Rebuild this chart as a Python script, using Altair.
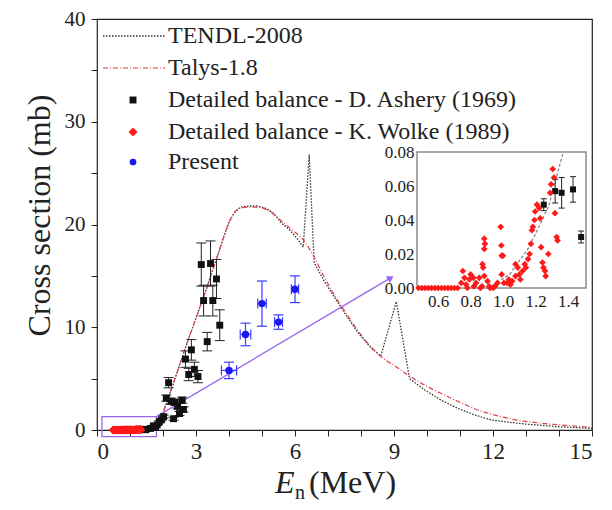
import altair as alt
import pandas as pd

# ---------------- data ----------------
tendl_E = [1.40, 1.60, 1.80, 1.95, 2.10, 2.30, 2.50, 2.70, 2.90, 3.10,
           3.30, 3.50, 3.70, 3.85, 4.00, 4.15, 4.35, 4.60, 4.85, 5.10,
           5.35, 5.60, 5.80, 6.05, 6.25, 6.43, 6.58, 6.90, 7.20, 7.50,
           7.90, 8.30, 8.60, 9.07, 9.47, 9.93, 10.43, 10.94, 11.45, 11.96,
           12.50, 12.97, 13.98, 15.00]
tendl_sigma = [0.08, 0.2, 0.6, 1.2, 2.6, 4.4, 6.3, 8.2, 10.0, 11.8,
               13.6, 15.5, 17.4, 18.9, 20.2, 21.1, 21.7, 21.8, 21.8, 21.6,
               21.1, 20.1, 19.6, 18.7, 17.8, 26.8, 16.3, 14.4, 12.9, 11.4,
               9.5, 8.0, 7.2, 12.5, 5.0, 3.9, 2.9, 2.1, 1.45, 0.97,
               0.75, 0.58, 0.32, 0.16]

talys_E = [1.40, 1.60, 1.80, 1.95, 2.10, 2.30, 2.50, 2.70, 2.90, 3.10,
           3.30, 3.50, 3.70, 3.85, 4.00, 4.15, 4.35, 4.60, 4.85, 5.10,
           5.35, 5.60, 5.90, 6.25, 6.55, 6.90, 7.20, 7.50, 7.90, 8.30,
           8.70, 9.00, 9.40, 9.80, 10.40, 11.00, 11.50, 12.00, 12.50, 13.50,
           14.20, 15.00]
talys_sigma = [0.08, 0.2, 0.6, 1.2, 2.6, 4.4, 6.3, 8.2, 10.0, 11.8,
               13.6, 15.5, 17.4, 18.9, 20.2, 21.1, 21.6, 21.7, 21.7, 21.5,
               21.0, 20.3, 19.5, 18.5, 17.0, 14.8, 13.1, 11.6, 9.7, 8.1,
               6.9, 6.3, 5.4, 4.6, 3.6, 2.7, 2.0, 1.5, 1.1, 0.65,
               0.45, 0.26]

ashery_E = [1.25, 1.32, 1.36, 1.43, 1.48, 1.62, 1.71, 1.77, 1.82, 1.89,
            1.95, 2.02, 2.10, 2.17, 2.24, 2.32, 2.37, 2.44, 2.50, 2.58,
            2.62, 2.68, 2.78, 2.86, 2.95, 3.06, 3.16, 3.23, 3.34, 3.44,
            3.51, 3.62, 3.72]
ashery_sigma = [0.049, 0.057, 0.056, 0.058, 0.030, 0.15, 0.4, 0.26, 0.5, 0.8,
                1.0, 1.3, 3.1, 4.6, 2.8, 1.1, 2.7, 2.3, 1.6, 2.9,
                2.0, 6.9, 5.4, 7.8, 5.9, 5.2, 16.1, 12.6, 8.6, 16.2,
                12.6, 14.7, 10.2]
ashery_err = [0.0035, 0.007, 0.009, 0.0075, 0.0035, 0.02, 0.05, 0.04, 0.06, 0.1,
              0.12, 0.15, 0.3, 0.5, 0.3, 0.15, 0.3, 0.25, 0.2, 0.3,
              0.25, 0.8, 0.6, 1.0, 0.7, 0.6, 2.1, 1.5, 0.9, 2.2,
              1.5, 1.9, 1.5]

wolke_E = [0.48, 0.50, 0.52, 0.54, 0.56, 0.58, 0.60, 0.62, 0.64, 0.66,
           0.68, 0.70, 0.72, 0.742, 0.752, 0.762, 0.772, 0.78, 0.792, 0.800,
           0.817, 0.82, 0.833, 0.853, 0.86, 0.870, 0.873, 0.877, 0.884, 0.884,
           0.888, 0.884, 0.904, 0.914, 0.92, 0.938, 0.95, 0.965, 0.985, 0.989,
           0.991, 0.999, 0.991, 1.005, 1.025, 1.035, 1.045, 1.056, 1.076, 1.076,
           1.090, 1.100, 1.106, 1.120, 1.133, 1.140, 1.153, 1.163, 1.171, 1.177,
           1.183, 1.193, 1.197, 1.208, 1.222, 1.228, 1.234, 1.242, 1.248, 1.258,
           1.262, 1.278, 1.289, 1.295, 1.305, 1.313, 1.319, 1.329, 1.335]
wolke_sigma = [0.0, 0.0, 0.0, 0.0, 0.0, 0.0, 0.0, 0.0, 0.0, 0.0,
               0.0, 0.0, 0.0, 0.003, 0.010, 0.006, 0.002, 0.0, 0.005, 0.008,
               0.006, 0.001, 0.003, 0.006, 0.0, 0.001, 0.014, 0.012, 0.007, 0.023,
               0.026, 0.029, 0.004, 0.001, 0.0, 0.0, 0.001, 0.003, 0.036, 0.025,
               0.019, 0.019, 0.008, 0.003, 0.003, 0.005, 0.002, 0.004, 0.007, 0.014,
               0.012, 0.008, 0.005, 0.010, 0.014, 0.012, 0.017, 0.020, 0.026, 0.034,
               0.036, 0.040, 0.045, 0.049, 0.047, 0.041, 0.024, 0.015, 0.012, 0.010,
               0.007, 0.020, 0.056, 0.061, 0.070, 0.065, 0.044, 0.030, 0.028]

present_E = [4.0, 4.5, 5.0, 5.5, 6.0]
present_sigma = [5.8, 9.3, 12.3, 10.5, 13.7]
present_dsigma = [0.8, 1.1, 2.2, 0.7, 1.3]
present_dE = [0.23, 0.16, 0.13, 0.12, 0.11]

inset_tendl_E = [0.91, 1.04, 1.16, 1.28, 1.37]
inset_tendl_sigma = [0.0, 0.008, 0.024, 0.048, 0.080]

zoom_box_E = [0.15, 1.8]
zoom_box_sigma = [-0.65, 1.3]
arrow_E = [1.8, 8.9]
arrow_sigma = [1.3, 14.8]

x_domain = [0, 15]
y_domain = [0, 40]
x_ticks = [0, 1, 2, 3, 4, 5, 6, 7, 8, 9, 10, 11, 12, 13, 14, 15]
y_ticks = [0, 5, 10, 15, 20, 25, 30, 35, 40]
inset_E_domain = [0.47, 1.51]
inset_sigma_domain = [0.0, 0.08]
inset_x_ticks = [0.6, 0.8, 1.0, 1.2, 1.4]
inset_y_ticks = [0.0, 0.02, 0.04, 0.06, 0.08]

legend_labels = ["TENDL-2008", "Talys-1.8",
                 "Detailed balance - D. Ashery (1969)",
                 "Detailed balance - K. Wolke (1989)", "Present"]
y_title = "Cross section (mb)"
x_title_parts = ["E", "n", "(MeV)"]

# ---------------- layout / style ----------------
W, H = 495, 411
FONT = "Liberation Serif, Times New Roman, Times, DejaVu Serif, serif"
INK = "#222222"
RED = "#ff1a1a"
BLUE = "#1a1aee"
PURPLE = "#9966ee"
TALYS_C = "#e04048"

tendl_df = pd.DataFrame({"E": tendl_E, "s": tendl_sigma})
talys_df = pd.DataFrame({"E": talys_E, "s": talys_sigma})
ash_df = pd.DataFrame({"E": ashery_E, "s": ashery_sigma, "e": ashery_err})
ash_df["lo"] = ash_df["s"] - ash_df["e"]
ash_df["hi"] = ash_df["s"] + ash_df["e"]
wolke_df = pd.DataFrame({"E": wolke_E, "s": wolke_sigma})
pres_df = pd.DataFrame({"E": present_E, "s": present_sigma,
                        "ds": present_dsigma, "dE": present_dE})
pres_df["lo"] = pres_df["s"] - pres_df["ds"]
pres_df["hi"] = pres_df["s"] + pres_df["ds"]
pres_df["El"] = pres_df["E"] - pres_df["dE"]
pres_df["Eh"] = pres_df["E"] + pres_df["dE"]
box_df = pd.DataFrame({"x0": [zoom_box_E[0]], "x1": [zoom_box_E[1]],
                       "y0": [zoom_box_sigma[0]], "y1": [zoom_box_sigma[1]]})
arrow_df = pd.DataFrame({"E0": [arrow_E[0]], "E1": [arrow_E[1]],
                         "s0": [arrow_sigma[0]], "s1": [arrow_sigma[1]]})
inset_curve_df = pd.DataFrame({"E": inset_tendl_E, "s": inset_tendl_sigma})
inset_frame_df = pd.DataFrame({"x0": [inset_E_domain[0]], "x1": [inset_E_domain[1]],
                               "y0": [inset_sigma_domain[0]], "y1": [inset_sigma_domain[1]]})

xs = alt.Scale(domain=x_domain, nice=False, zero=False)
ys = alt.Scale(domain=y_domain, nice=False, zero=False)
x_axis = alt.Axis(values=x_ticks, format="d",
                  labelExpr="datum.value % 3 === 0 ? datum.label : ''",
                  tickSize=6, tickColor=INK, domain=False, grid=False,
                  labelFont=FONT, labelFontSize=23, labelColor=INK,
                  labelPadding=4, labelOverlap=False, title=None)
y_axis = alt.Axis(values=y_ticks, format="d",
                  labelExpr="datum.value % 10 === 0 ? datum.label : ''",
                  tickSize=6, tickColor=INK, domain=False, grid=False,
                  labelFont=FONT, labelFontSize=21, labelColor=INK,
                  labelPadding=6, labelOverlap=False,
                  title=y_title, titleFont=FONT, titleFontSize=32,
                  titleFontWeight="normal", titleColor=INK,
                  titleX=-58, titleY=196, titleBaseline="middle")


def MX(f):
    return alt.X(f, type="quantitative", scale=xs, axis=x_axis)


def MY(f):
    return alt.Y(f, type="quantitative", scale=ys, axis=y_axis)


ixs = alt.Scale(domain=inset_E_domain, range=[320, 489], nice=False, zero=False)
iys = alt.Scale(domain=inset_sigma_domain, range=[269, 133], nice=False, zero=False)
ix_axis = alt.Axis(orient="bottom", offset=-142, values=inset_x_ticks, format=".1f",
                   ticks=False, domain=False, grid=False, labelFont=FONT,
                   labelFontSize=17, labelColor=INK, labelPadding=5,
                   labelOverlap=False, title=None)
iy_axis = alt.Axis(orient="left", offset=-320, values=inset_y_ticks, format=".2f",
                   ticks=False, domain=False, grid=False, labelFont=FONT,
                   labelFontSize=17, labelColor=INK, labelPadding=3,
                   labelOverlap=False, title=None)


def IX(f):
    return alt.X(f, type="quantitative", scale=ixs, axis=ix_axis)


def IY(f):
    return alt.Y(f, type="quantitative", scale=iys, axis=iy_axis)


# ---------------- main panel ----------------
main = []
main.append(alt.Chart(tendl_df).mark_line(color="#333333", strokeDash=[1.5, 1.5],
                                          strokeWidth=1.3).encode(x=MX("E"), y=MY("s")))
main.append(alt.Chart(talys_df).mark_line(color=TALYS_C, strokeDash=[5, 2, 1, 2],
                                          strokeWidth=1.2, interpolate="monotone")
            .encode(x=MX("E"), y=MY("s")))
main.append(alt.Chart(box_df).mark_rect(fillOpacity=0, stroke=PURPLE, strokeWidth=1.3)
            .encode(x=MX("x0"), x2=alt.X2("x1"), y=MY("y0"), y2=alt.Y2("y1")))
main.append(alt.Chart(arrow_df).mark_rule(color=PURPLE, strokeWidth=1.3)
            .encode(x=MX("E0"), y=MY("s0"), x2=alt.X2("E1"), y2=alt.Y2("s1")))
main.append(alt.Chart(arrow_df).mark_point(shape="triangle-right", filled=True, size=60,
                                           angle=329, color=PURPLE, opacity=1)
            .encode(x=MX("E1"), y=MY("s1")))
# Ashery
main.append(alt.Chart(ash_df).mark_rule(color=INK, strokeWidth=1)
            .encode(x=MX("E"), y=MY("lo"), y2=alt.Y2("hi")))
for f in ["lo", "hi"]:
    main.append(alt.Chart(ash_df).mark_rule(color=INK, strokeWidth=1, xOffset=-5, x2Offset=5)
                .encode(x=MX("E"), x2=alt.X2("E"), y=MY(f)))
main.append(alt.Chart(ash_df).mark_point(shape="square", filled=True, size=48,
                                         color="#111111", opacity=1)
            .encode(x=MX("E"), y=MY("s")))
# Present
main.append(alt.Chart(pres_df).mark_rule(color="#3c3cff", strokeWidth=1.2)
            .encode(x=MX("E"), y=MY("lo"), y2=alt.Y2("hi")))
main.append(alt.Chart(pres_df).mark_rule(color="#3c3cff", strokeWidth=1.2)
            .encode(x=MX("El"), x2=alt.X2("Eh"), y=MY("s")))
for f in ["lo", "hi"]:
    main.append(alt.Chart(pres_df).mark_rule(color="#3c3cff", strokeWidth=1.2,
                                             xOffset=-5, x2Offset=5)
                .encode(x=MX("E"), x2=alt.X2("E"), y=MY(f)))
for f in ["El", "Eh"]:
    main.append(alt.Chart(pres_df).mark_rule(color="#3c3cff", strokeWidth=1.2,
                                             yOffset=-5, y2Offset=5)
                .encode(x=MX(f), y=MY("s"), y2=alt.Y2("s")))
main.append(alt.Chart(pres_df).mark_point(shape="circle", filled=True, size=55,
                                          color=BLUE, opacity=1)
            .encode(x=MX("E"), y=MY("s")))
# Wolke (drawn on top)
main.append(alt.Chart(wolke_df).mark_point(shape="diamond", filled=True, size=70,
                                           color=RED, opacity=1)
            .encode(x=MX("E"), y=MY("s")))

# legend
one = pd.DataFrame({"k": [0]})
main.append(alt.Chart(one).mark_rule(color="#333333", strokeDash=[1.5, 1.5], strokeWidth=1.3)
            .encode(x=alt.value(6), x2=alt.value(68), y=alt.value(17)))
main.append(alt.Chart(one).mark_rule(color=TALYS_C, strokeDash=[5, 2, 1, 2], strokeWidth=1.2)
            .encode(x=alt.value(6), x2=alt.value(68), y=alt.value(49)))
main.append(alt.Chart(one).mark_point(shape="square", filled=True, size=48,
                                      color="#111111", opacity=1)
            .encode(x=alt.value(36), y=alt.value(81)))
main.append(alt.Chart(one).mark_point(shape="diamond", filled=True, size=80,
                                      color=RED, opacity=1)
            .encode(x=alt.value(36), y=alt.value(113)))
main.append(alt.Chart(one).mark_point(shape="circle", filled=True, size=45,
                                      color=BLUE, opacity=1)
            .encode(x=alt.value(36), y=alt.value(143)))
legend_rows = [17, 49, 81, 113, 143]
for lab, ry in zip(legend_labels, legend_rows):
    main.append(alt.Chart(pd.DataFrame({"t": [lab]}))
                .mark_text(align="left", baseline="middle", font=FONT, fontSize=24, color=INK)
                .encode(x=alt.value(71), y=alt.value(ry), text="t:N"))

# x title: italic E, subscript n, (MeV)
main.append(alt.Chart(pd.DataFrame({"t": [x_title_parts[0]]}))
            .mark_text(align="left", baseline="alphabetic", font=FONT, fontSize=32,
                       fontStyle="italic", color=INK)
            .encode(x=alt.value(178), y=alt.value(474), text="t:N"))
main.append(alt.Chart(pd.DataFrame({"t": [x_title_parts[1]]}))
            .mark_text(align="left", baseline="alphabetic", font=FONT, fontSize=20, color=INK)
            .encode(x=alt.value(198), y=alt.value(480), text="t:N"))
main.append(alt.Chart(pd.DataFrame({"t": [x_title_parts[2]]}))
            .mark_text(align="left", baseline="alphabetic", font=FONT, fontSize=32, color=INK)
            .encode(x=alt.value(212), y=alt.value(474), text="t:N"))

main_layer = alt.layer(*main)

# ---------------- inset ----------------
inset = []
inset.append(alt.Chart(inset_frame_df).mark_rect(fill="white", stroke="#8a8a8a", strokeWidth=1.5)
             .encode(x=IX("x0"), x2=alt.X2("x1"), y=IY("y0"), y2=alt.Y2("y1")))
inset.append(alt.Chart(inset_curve_df).mark_line(color="#777777", strokeDash=[3, 2], strokeWidth=1.1)
             .encode(x=IX("E"), y=IY("s")))
ash_in = ash_df[ash_df["E"] < 1.5]
inset.append(alt.Chart(ash_in).mark_rule(color=INK, strokeWidth=1)
             .encode(x=IX("E"), y=IY("lo"), y2=alt.Y2("hi")))
for f in ["lo", "hi"]:
    inset.append(alt.Chart(ash_in).mark_rule(color=INK, strokeWidth=1, xOffset=-3, x2Offset=3)
                 .encode(x=IX("E"), x2=alt.X2("E"), y=IY(f)))
inset.append(alt.Chart(ash_in).mark_point(shape="square", filled=True, size=36,
                                          color="#111111", opacity=1)
             .encode(x=IX("E"), y=IY("s")))
inset.append(alt.Chart(wolke_df).mark_point(shape="diamond", filled=True, size=45,
                                            color=RED, opacity=1)
             .encode(x=IX("E"), y=IY("s")))
inset_layer = alt.layer(*inset)

chart = (alt.layer(main_layer, inset_layer)
         .resolve_scale(x="independent", y="independent")
         .properties(width=W, height=H,
                     autosize=alt.AutoSizeParams(type="none"),
                     padding={"left": 89, "top": 11, "right": 12, "bottom": 72})
         .configure(font=FONT)
         .configure_view(stroke=INK, strokeWidth=1.2))

chart.save("out.html", embed_options={"renderer": "svg", "actions": False})
